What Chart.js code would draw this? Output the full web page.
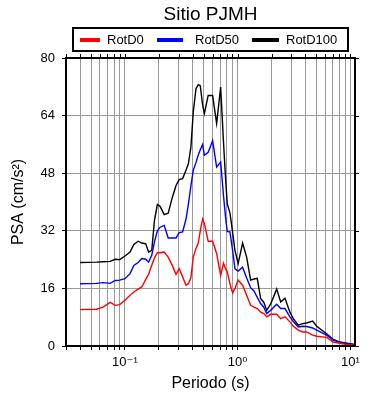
<!DOCTYPE html>
<html>
<head>
<meta charset="utf-8">
<script src="https://cdn.jsdelivr.net/npm/chart.js@4/dist/chart.umd.min.js"></script>
<style>
  body { margin:0; background:#fff; }
  #wrap { width:390px; height:400px; }
</style>
</head>
<body>
<div id="wrap"><canvas id="psa" width="390" height="400"></canvas></div>
<script>
// Data (periodo en s, PSA en cm/s2)
const periods = [0.04,0.056,0.064,0.074,0.082,0.09,0.1,0.111,0.12,0.131,0.141,0.153,0.162,0.173,0.183,0.194,0.205,0.223,0.242,0.263,0.284,0.303,0.325,0.348,0.366,0.385,0.404,0.427,0.447,0.466,0.489,0.507,0.548,0.6,0.651,0.707,0.748,0.78,0.809,0.855,0.903,0.946,1.01,1.107,1.202,1.304,1.396,1.493,1.6,1.71,1.81,1.96,2.22,2.41,2.63,2.91,3.12,3.45,3.78,4.1,4.63,5.03,6.16,7.05,8.09,9.27,11];
const rotD0 = [10.1,10.2,10.8,12.1,11.3,11.5,12.7,14.1,15.0,15.8,
  16.4,18.5,19.9,22.4,24.5,25.9,25.9,26.1,24.7,22.4,
  19.9,21.5,19.2,16.9,17.3,19.0,24.7,27.1,28.5,32.0,
  35.3,34.0,29.1,29.1,25.7,19.6,23.0,21.5,20.6,17.3,
  14.7,16.0,18.3,16.9,14.1,11.3,10.8,10.4,9.4,9.0,
  8.1,8.8,8.8,7.6,8.1,6.7,5.5,4.4,3.9,3.9,
  3.0,2.7,2.4,1.1,0.75,0.4,0.2];
const rotD50 = [17.3,17.4,17.6,17.4,18.2,18.3,18.7,20.1,22.4,23.2,
  24.3,24.1,23.3,25.2,29.0,32.0,33.0,33.5,30.0,30.0,
  30.0,31.5,31.7,35.2,39.5,44.5,48.8,51.0,53.0,54.5,
  56.0,53.0,53.8,57.0,49.7,51.1,42.0,36.0,31.8,31.7,
  26.5,21.5,20.8,21.9,18.9,16.2,15.3,13.5,11.8,10.7,
  9.0,9.9,11.6,10.4,10.4,8.1,6.8,5.3,5.5,5.4,
  5.0,4.4,3.0,1.6,1.0,0.7,0.3];
const rotD100 = [23.2,23.3,23.4,23.5,24.1,24.0,25.0,26.1,28.2,29.1,
  28.6,28.4,26.1,26.6,35.0,39.3,38.8,36.5,36.9,41.2,
  44.6,46.2,46.5,48.8,50.7,55.3,65.0,71.5,72.6,72.3,
  67.0,64.6,69.6,69.6,61.8,71.9,57.0,47.0,39.5,37.0,
  31.5,26.6,22.9,28.6,24.7,18.3,18.6,18.8,13.2,12.1,
  9.9,11.6,15.8,12.2,13.3,9.4,7.6,5.8,6.2,6.4,
  6.9,5.5,3.4,1.8,1.1,0.8,0.4];

const seriesNames = ['RotD0', 'RotD50', 'RotD100'];
const seriesColors = ['#ff0000', '#0000ff', '#000000'];
const yTicks = [0, 16, 32, 48, 64, 80];
const xTickLabels = { 0.1: '10\u207B\u00B9', 1: '10\u2070', 10: '10\u00B9' };
const titleText = 'Sitio PJMH';

const FONT = "'Liberation Sans', Arial, 'DejaVu Sans', sans-serif";

// grid positions on the log axis (1..9 per decade)
const xMin = 0.03, xMax = 11;
const xGrid = [];
[0.01, 0.1, 1, 10].forEach(dec => {
  for (let m = 1; m <= 9; m++) {
    const v = +(m * dec).toPrecision(3);
    if (v >= xMin && v <= xMax) xGrid.push(v);
  }
});

const toPoints = vals => vals.map((v, i) => ({ x: periods[i], y: v }));
const seriesValues = [rotD0, rotD50, rotD100];

// frame, mirrored ticks, title and boxed legend
const framePlugin = {
  id: 'frame',
  afterDraw(chart) {
    const { ctx, chartArea: a, scales } = chart;
    ctx.save();
    ctx.strokeStyle = '#000';
    ctx.lineWidth = 1;
    // top ticks
    xGrid.forEach(v => {
      const px = Math.round(scales.x.getPixelForValue(v)) + 0.5;
      ctx.beginPath(); ctx.moveTo(px, a.top); ctx.lineTo(px, a.top - 4); ctx.stroke();
    });
    // right ticks
    yTicks.forEach(v => {
      const py = Math.round(scales.y.getPixelForValue(v)) + 0.5;
      ctx.beginPath(); ctx.moveTo(a.right, py); ctx.lineTo(a.right + 4, py); ctx.stroke();
    });
    ctx.lineWidth = 2;
    ctx.strokeRect(a.left, a.top, a.right - a.left, a.bottom - a.top);

    // title
    const cx = (a.left + a.right) / 2;
    ctx.fillStyle = '#000';
    ctx.font = '19px ' + FONT;
    ctx.textAlign = 'center';
    ctx.textBaseline = 'middle';
    ctx.fillText(titleText, cx, 15);

    // legend box
    ctx.lineWidth = 2;
    ctx.strokeRect(73, 28, 275, 23);
    const items = [[80, 100, 107], [157, 183, 195], [252, 279, 286]];
    ctx.font = '13px ' + FONT;
    ctx.textAlign = 'left';
    chart.data.datasets.forEach((ds, i) => {
      const [x0, x1, tx] = items[i];
      ctx.strokeStyle = ds.borderColor;
      ctx.lineWidth = 4;
      ctx.beginPath(); ctx.moveTo(x0, 40); ctx.lineTo(x1, 40); ctx.stroke();
      ctx.fillStyle = '#000';
      ctx.fillText(ds.label, tx, 40);
    });
    ctx.restore();
  }
};

new Chart(document.getElementById('psa'), {
  type: 'line',
  data: {
    datasets: seriesNames.map((name, i) => ({
      label: name,
      data: toPoints(seriesValues[i]),
      borderColor: seriesColors[i],
      backgroundColor: seriesColors[i],
      borderWidth: 1.4,
      pointRadius: 0,
      tension: 0,
      fill: false
    }))
  },
  options: {
    responsive: false,
    animation: false,
    layout: { padding: { top: 58, right: 35, bottom: 0, left: 0 } },
    plugins: {
      legend: { display: false },
      title: { display: false },
      tooltip: { enabled: false }
    },
    scales: {
      x: {
        type: 'logarithmic',
        min: xMin,
        max: xMax,
        afterBuildTicks: scale => { scale.ticks = xGrid.map(v => ({ value: v })); },
        afterFit: scale => { scale.height = 54; },
        ticks: {
          autoSkip: false,
          maxRotation: 0,
          padding: 5,
          color: '#000',
          font: { family: FONT, size: 13 },
          callback: v => xTickLabels[v] || ''
        },
        grid: { color: '#9a9a9a', lineWidth: 1, tickLength: 4, tickColor: '#000' },
        border: { display: true, color: '#000', width: 2 },
        title: {
          display: true,
          text: 'Periodo (s)',
          color: '#000',
          font: { family: FONT, size: 16 },
          padding: { top: 0, bottom: 7 }
        }
      },
      y: {
        min: 0,
        max: 80,
        afterBuildTicks: scale => { scale.ticks = yTicks.map(v => ({ value: v })); },
        afterFit: scale => { scale.width = 66; },
        ticks: {
          padding: 7,
          color: '#000',
          font: { family: FONT, size: 13 }
        },
        grid: { color: '#9a9a9a', lineWidth: 1, tickLength: 4, tickColor: '#000' },
        border: { display: true, color: '#000', width: 2 },
        title: {
          display: true,
          text: 'PSA (cm/s\u00B2)',
          color: '#000',
          font: { family: FONT, size: 16 },
          padding: { top: 9, bottom: 0 }
        }
      }
    }
  },
  plugins: [framePlugin]
});
</script>
</body>
</html>
